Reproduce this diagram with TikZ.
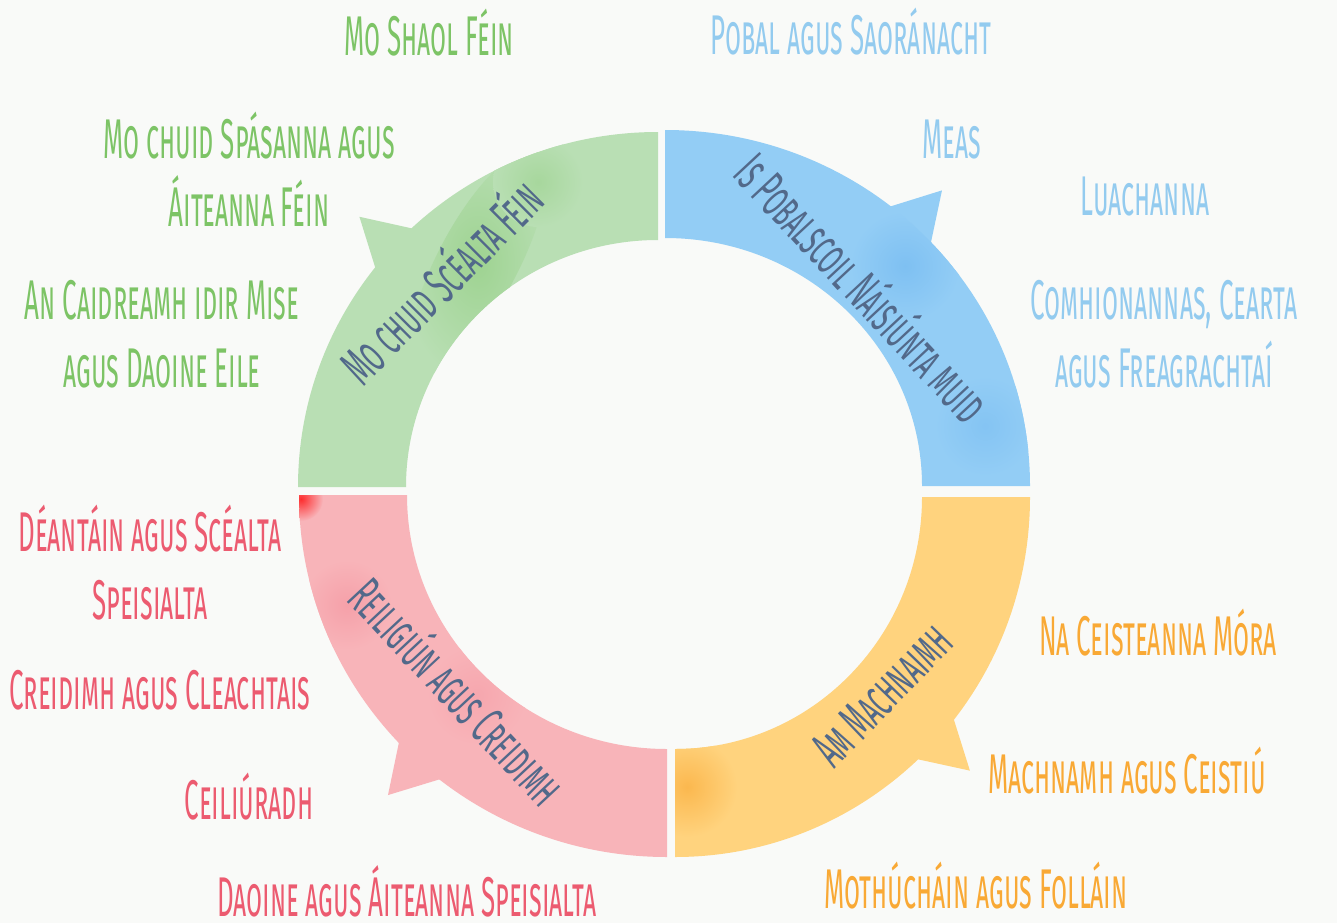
\documentclass[tikz,border=0pt]{standalone}
\usepackage{fontspec}
\usepackage{tikz}
\newfontfamily\amatic[FakeStretch=0.463,Letters=SmallCaps]{Fira Sans}
\newfontfamily\amaticring[FakeStretch=0.49,Letters=SmallCaps]{Fira Sans}

\definecolor{paper}{HTML}{F9FAF8}
\definecolor{ringgreen}{HTML}{B9DFB4}
\definecolor{ringblue}{HTML}{93CDF5}
\definecolor{ringbluedeep}{HTML}{7EC0F2}
\definecolor{ringred}{HTML}{F8B4B9}
\definecolor{ringorange}{HTML}{FFD37E}
\definecolor{labgreen}{HTML}{7DC466}
\definecolor{labblue}{HTML}{93CBEF}
\definecolor{labred}{HTML}{EC5B70}
\definecolor{laborange}{HTML}{F9A935}
\definecolor{ringslate}{HTML}{52698A}

\tikzset{
	topic/.style={font=\amatic\fontsize{56}{68}\selectfont, align=center, inner sep=0pt},
	ringtext/.style={font=\amaticring\fontsize{53}{53}\selectfont, text=ringslate, inner sep=0pt},
}

\begin{document}
\begin{tikzpicture}[x=1pt,y=-1pt]
			\fill[paper] (0,0) rectangle (1337,923);
			\useasboundingbox (0,0) rectangle (1337,923);

			% four quarters of the ring, each with its pointer
			\foreach \i/\cx/\cy/\a/\Rx/\Ry/\col in {1/658/487/180/360/355/ringgreen, 2/665/486/270/365/356/ringblue, 3/675/497/0/355/360/ringorange, 4/667/495/90/368/362/ringred} {
			\begin{scope}[shift={(\cx,\cy)}]
			\fill[\col] ({(\Rx-2)*cos(\a+38)},{(\Ry-2)*sin(\a+38)}) -- ({(\Rx+45)*cos(\a+42.5)},{(\Ry+45)*sin(\a+42.5)})
				-- ({(\Rx-2)*cos(\a+47)},{(\Ry-2)*sin(\a+47)}) -- cycle; % pointer
			\begin{scope}
			\clip ({\Rx*cos(\a)},{\Ry*sin(\a)}) arc[start angle=\a, end angle=\a+90, x radius=\Rx, y radius=\Ry]
				-- ({(\Rx-108)*cos(\a+90)},{(\Ry-108)*sin(\a+90)}) arc[start angle=\a+90, end angle=\a, x radius=\Rx-108, y radius=\Ry-108] -- cycle;
			\fill[\col] (-400,-400) rectangle (400,400);

			% watercolour patches
			\ifnum\i=1 \shade[inner color=labgreen!45!ringgreen, outer color=\col, rotate around={62:(-180,-225)}] (-180,-225) ellipse[x radius=125, y radius=40];
			\shade[inner color=labgreen!30!ringgreen, outer color=\col] (-120,-305) circle (45);
			\fi \ifnum\i=2 \shade[inner color=ringbluedeep, outer color=\col] (240,-220) circle (55);
			\shade[inner color=ringbluedeep!70!ringblue, outer color=\col] (320,-60) circle (50);
			\fi \ifnum\i=3 \shade[inner color=laborange!65!ringorange, outer color=\col] (12,290) circle (50);
			\fi \ifnum\i=4 \shade[inner color=red!75!ringred, outer color=\col] (-366,4) circle (22);
			\shade[inner color=labred!22!ringred, outer color=\col] (-320,110) circle (45);
			\shade[inner color=labred!15!ringred, outer color=\col] (-190,200) circle (50);
			\fi
			\end{scope}
			\end{scope} }

			% titles on the ring
			\node[ringtext, rotate=45] (scealta) at (440,280) {Mo chuid Scéalta Féin};
			\node[ringtext, rotate=-47] (pobalscoil) at (864,286) {Is Pobalscoil Náisiúnta muid};
			\node[ringtext, rotate=-47] (reiligiun) at (459,690) {Reiligiún agus Creidimh};
			\node[ringtext, rotate=46] (machnaimh) at (882,695) {Am Machnaimh};

			% green topics
			\node[topic, text=labgreen] (shaol) at (429,33) {Mo Shaol Féin};
			\node[topic, text=labgreen] (spasanna) at (249,169) {Mo chuid Spásanna agus\\Áiteanna Féin};
			\node[topic, text=labgreen] (caidreamh) at (162,334) {An Caidreamh idir Mise\\agus Daoine Eile};

			% blue topics
			\node[topic, text=labblue] (pobal) at (851,32) {Pobal agus Saoránacht};
			\node[topic, text=labblue] (meas) at (952,140) {Meas};
			\node[topic, text=labblue] (luachanna) at (1145,197) {Luachanna};
			\node[topic, text=labblue] (comhionannas) at (1164,334) {Comhionannas, Cearta\\agus Freagrachtaí};

			% red topics
			\node[topic, text=labred] (deantain) at (150,563) {Déantáin agus Scéalta\\Speisialta};
			\node[topic, text=labred] (creidimh) at (160,690) {Creidimh agus Cleachtais};
			\node[topic, text=labred] (ceiliuradh) at (249,797) {Ceiliúradh};
			\node[topic, text=labred] (daoine) at (407,891) {Daoine agus Áiteanna Speisialta};

			% orange topics
			\node[topic, text=laborange] (ceisteanna) at (1158,633) {Na Ceisteanna Móra};
			\node[topic, text=laborange] (ceistiu) at (1127,771) {Machnamh agus Ceistiú};
			\node[topic, text=laborange] (mothuchain) at (976,886) {Mothúcháin agus Folláin};
		\end{tikzpicture}
\end{document}
